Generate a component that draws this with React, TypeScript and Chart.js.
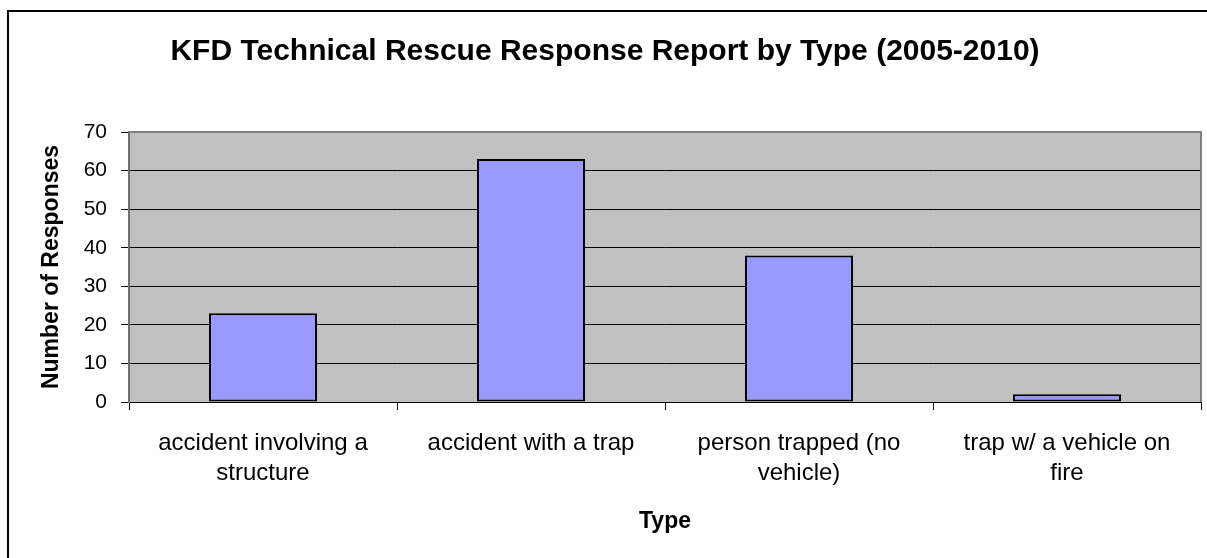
import React, { useEffect, useRef } from "react";
import { Chart, registerables } from "chart.js";

Chart.register(...registerables);

const categories: string[][] = [
  ["accident involving a", "structure"],
  ["accident with a trap"],
  ["person trapped (no", "vehicle)"],
  ["trap w/ a vehicle on", "fire"],
];
const responses: number[] = [23, 63, 38, 2];
const chartTitle = "KFD Technical Rescue Response Report by Type (2005-2010)";
const xTitle = "Type";
const yTitle = "Number of Responses";
const yMin = 0;
const yMax = 70;
const yStep = 10;

const FONT = "'Liberation Sans', Arial, Helvetica, sans-serif";

const plotAreaPlugin = {
  id: "plotArea",
  beforeDraw(chart: any) {
    const { ctx, chartArea } = chart;
    if (!chartArea) return;
    ctx.save();
    ctx.fillStyle = "#C0C0C0";
    ctx.fillRect(chartArea.left, chartArea.top, chartArea.right - chartArea.left, chartArea.bottom - chartArea.top);
    ctx.restore();
  },
  afterDatasetsDraw(chart: any) {
    const { ctx, chartArea } = chart;
    if (!chartArea) return;
    ctx.save();
    ctx.strokeStyle = "#808080";
    ctx.lineWidth = 2;
    ctx.beginPath();
    ctx.moveTo(chartArea.left, chartArea.top);
    ctx.lineTo(chartArea.right, chartArea.top);
    ctx.lineTo(chartArea.right, chartArea.bottom);
    ctx.stroke();
    ctx.restore();
  },
};

export default function App() {
  const canvasRef = useRef<HTMLCanvasElement | null>(null);

  useEffect(() => {
    if (!canvasRef.current) return;
    const chart = new Chart(canvasRef.current, {
      type: "bar",
      data: {
        labels: categories,
        datasets: [
          {
            data: responses,
            backgroundColor: "#9999FF",
            borderColor: "#000000",
            borderWidth: 2,
            borderSkipped: false,
            categoryPercentage: 1,
            barPercentage: 0.403,
          },
        ],
      },
      options: {
        responsive: false,
        animation: false,
        layout: { padding: { left: 0, right: 6, top: 0, bottom: 0 } },
        plugins: {
          legend: { display: false },
          tooltip: { enabled: false },
          title: {
            display: true,
            text: chartTitle,
            color: "#000000",
            font: { family: FONT, size: 30, weight: "bold", lineHeight: 1.2 },
            padding: { top: 22, bottom: 62 },
          },
        },
        scales: {
          x: {
            afterFit(scale: any) {
              scale.height = 156;
            },
            grid: {
              display: true,
              drawOnChartArea: false,
              drawTicks: true,
              tickLength: 8,
              tickColor: "#000000",
              offset: true,
            },
            border: { display: true, color: "#000000", width: 1 },
            ticks: {
              color: "#000000",
              autoSkip: false,
              maxRotation: 0,
              minRotation: 0,
              padding: 18,
              font: { family: FONT, size: 24, lineHeight: 1.25 },
            },
            title: {
              display: true,
              text: xTitle,
              color: "#000000",
              font: { family: FONT, size: 23, weight: "bold", lineHeight: 1.2 },
              padding: { top: 0, bottom: 23 },
            },
          },
          y: {
            min: yMin,
            max: yMax,
            afterFit(scale: any) {
              scale.width = 120;
            },
            grid: {
              color: (ctx: any) => (ctx.tick && ctx.tick.value === yMax ? "#808080" : "#000000"),
              lineWidth: 1,
              drawTicks: true,
              tickLength: 8,
              tickColor: "#000000",
            },
            border: { display: true, color: "#707070", width: 2 },
            ticks: {
              stepSize: yStep,
              color: "#000000",
              padding: 14,
              font: { family: FONT, size: 21 },
            },
            title: {
              display: true,
              text: yTitle,
              color: "#000000",
              font: { family: FONT, size: 23, weight: "bold", lineHeight: 1.2 },
              padding: { top: 29, bottom: 0 },
            },
          },
        },
      },
      plugins: [plotAreaPlugin],
    });
    return () => chart.destroy();
  }, []);

  return (
    <div
      style={{
        position: "fixed",
        left: 0,
        top: 0,
        width: 1207,
        height: 558,
        overflow: "hidden",
        background: "#ffffff",
      }}
    >
      <div
        style={{
          position: "absolute",
          left: 7,
          top: 10,
          width: 1220,
          height: 560,
          borderLeft: "2px solid #000000",
          borderTop: "2px solid #000000",
        }}
      >
        <canvas ref={canvasRef} width={1198} height={546} style={{ display: "block" }} />
      </div>
    </div>
  );
}
